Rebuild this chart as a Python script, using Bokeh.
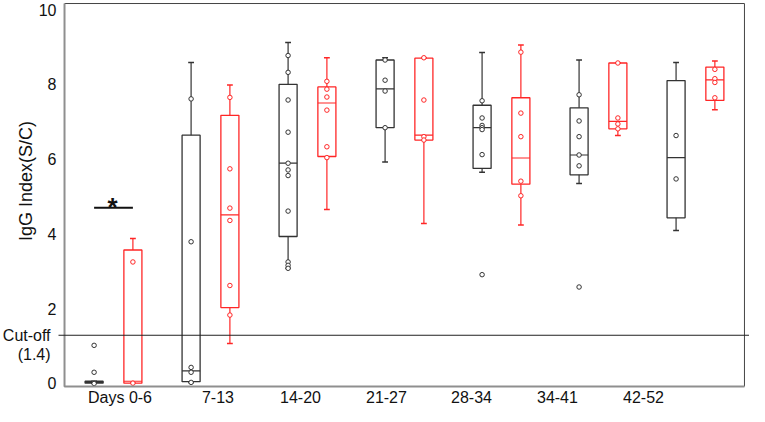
import numpy as np
from bokeh.plotting import figure
from bokeh.models import Range1d, ColumnDataSource
from bokeh.core.properties import value
from bokeh.embed import file_html
from bokeh.resources import INLINE

# ---------------- data ----------------
GROUPS = ["Days 0-6", "7-13", "14-20", "21-27", "28-34", "34-41", "42-52"]

BLACK_LOW = [0.01, 0.03, 3.08, 5.92, 5.65, 5.35, 4.09]
BLACK_Q1 = [0.01, 0.05, 3.93, 6.84, 5.75, 5.58, 4.43]
BLACK_MED = [0.03, 0.34, 5.89, 7.88, 6.84, 6.11, 6.04]
BLACK_Q3 = [0.06, 6.64, 8.00, 8.65, 7.44, 7.37, 8.10]
BLACK_HIGH = [0.06, 8.58, 9.12, 8.71, 8.85, 8.65, 8.58]
BLACK_PTS = [
    [0.00, 0.30, 1.02],
    [7.61, 3.79, 0.43, 0.30, 0.03],
    [8.77, 8.32, 7.58, 6.72, 5.89, 5.71, 5.56, 4.61, 3.25, 3.16, 3.08],
    [8.65, 8.11, 7.82, 6.84],
    [7.56, 7.10, 6.90, 6.84, 6.79, 6.12, 2.91],
    [7.72, 7.02, 6.60, 6.11, 5.82, 2.58],
    [6.63, 5.47],
]

RED_LOW = [0.01, 1.07, 4.65, 4.28, 4.24, 6.63, 7.32]
RED_Q1 = [0.01, 2.03, 6.07, 6.51, 5.33, 6.81, 7.57]
RED_MED = [0.06, 4.51, 7.50, 6.64, 6.03, 7.01, 8.12]
RED_Q3 = [3.57, 7.17, 7.93, 8.70, 7.64, 8.57, 8.46]
RED_HIGH = [3.88, 7.98, 8.71, 8.71, 9.05, 8.57, 8.62]
RED_PTS = [
    [3.25, 0.01],
    [7.65, 5.74, 4.69, 4.36, 2.62, 1.83],
    [8.08, 7.87, 7.66, 7.31, 6.33, 6.04],
    [8.71, 7.58, 6.60, 6.51],
    [8.86, 7.23, 6.60, 5.41, 5.02],
    [8.57, 7.10, 6.94, 6.81],
    [8.40, 8.15, 8.05, 7.64],
]

Y_TICKS = [0, 2, 4, 6, 8, 10]
CUTOFF = 1.29
CUTOFF_TEXT = ["Cut-off", "(1.4)"]
SIG_Y = 4.70
SIG_TEXT = "*"
Y_LABEL = "IgG  Index(S/C)"

# ---------------- style / layout ----------------
FONT = "Liberation Sans"
INK = "#111111"
BLACK = "#333333"
RED = "#ff2626"
BOX_W = 0.186
CAP_HALF = 0.03
OFFSET = 0.2
# label centres in group units (labels are not centred on the groups)
LABEL_POS = [0.067, 1.077, 1.928, 2.814, 3.691, 4.577, 5.464]
X0, X1 = -0.505, 6.505          # drawn frame
Y0, Y1 = -0.08, 10.16
YTICK_X = -0.588                # right edge of y tick labels
CUT_X = -0.649                  # right edge of cut-off labels
CUT_LINE_X0 = -0.567
YLABEL_X = -0.907
YLABEL_Y = 5.48
XLABEL_Y = -0.374

p = figure(width=749, height=406,
           x_range=Range1d(-1.165, 6.557), y_range=Range1d(-0.615, 10.241),
           x_axis_type=None, y_axis_type=None,
           output_backend="svg", toolbar_location=None,
           min_border=0)
p.outline_line_color = None
p.background_fill_color = "white"
p.border_fill_color = "white"

idx = np.arange(len(GROUPS))


def draw(xs, low, q1, med, q3, high, pts, color):
    xs = np.asarray(xs, dtype=float)
    src = ColumnDataSource(dict(
        x=xs, xl=xs - CAP_HALF, xr=xs + CAP_HALF,
        bl=xs - BOX_W / 2, br=xs + BOX_W / 2,
        low=low, q1=q1, med=med, q3=q3, high=high))
    p.segment(x0="x", y0="q3", x1="x", y1="high", source=src,
              line_color=color, line_width=1.2)
    p.segment(x0="x", y0="low", x1="x", y1="q1", source=src,
              line_color=color, line_width=1.2)
    p.segment(x0="xl", y0="high", x1="xr", y1="high", source=src,
              line_color=color, line_width=1.5)
    p.segment(x0="xl", y0="low", x1="xr", y1="low", source=src,
              line_color=color, line_width=1.5)
    p.vbar(x="x", width=BOX_W, bottom="q1", top="q3", source=src,
           fill_color=None, line_color=color, line_width=1.3)
    p.segment(x0="bl", y0="med", x1="br", y1="med", source=src,
              line_color=color, line_width=1.2)
    px, py = [], []
    for x, vals in zip(xs, pts):
        for v in vals:
            px.append(x)
            py.append(v)
    p.scatter(px, py, marker="circle", size=4.5, fill_color="white",
              line_color=color, line_width=1)


draw(idx - OFFSET, BLACK_LOW, BLACK_Q1, BLACK_MED, BLACK_Q3, BLACK_HIGH, BLACK_PTS, BLACK)
draw(idx + OFFSET, RED_LOW, RED_Q1, RED_MED, RED_Q3, RED_HIGH, RED_PTS, RED)

# frame
p.line([X0, X1, X1], [Y1, Y1, Y0], line_color="#444444", line_width=1)
p.line([X0, X0, X1], [Y1, Y0, Y0], line_color="#8f8f8f", line_width=2)

# cut-off line and its label
p.segment(x0=[CUT_LINE_X0], y0=[CUTOFF], x1=[7.0], y1=[CUTOFF],
          line_color="#222222", line_width=1)
p.text(x=[CUT_X, CUT_X], y=[CUTOFF, CUTOFF - 0.51], text=CUTOFF_TEXT,
       text_align="right", text_baseline="middle", text_font=value(FONT),
       text_font_size="16px", text_color=INK)

# y tick labels
p.text(x=[YTICK_X] * len(Y_TICKS), y=Y_TICKS, text=[str(t) for t in Y_TICKS],
       text_align="right", text_baseline="middle", text_font=value(FONT),
       text_font_size="16px", text_color=INK)

# y axis title
p.text(x=[YLABEL_X], y=[YLABEL_Y], text=[Y_LABEL], angle=np.pi / 2,
       text_align="center", text_baseline="middle", text_font=value(FONT),
       text_font_size="18px", text_color=INK)

# x category labels
p.text(x=LABEL_POS, y=[XLABEL_Y] * len(GROUPS), text=GROUPS,
       text_align="center", text_baseline="middle", text_font=value(FONT),
       text_font_size="16px", text_color=INK)

# significance marker
p.segment(x0=[-OFFSET], y0=[SIG_Y], x1=[OFFSET], y1=[SIG_Y],
          line_color=INK, line_width=2)
p.text(x=[-0.01], y=[SIG_Y + 0.02], text=[SIG_TEXT], text_align="center",
       text_baseline="middle", text_font=value(FONT), text_font_size="26px",
       text_font_style="bold", text_color=INK)

open("out.html", "w").write(file_html(p, INLINE))
